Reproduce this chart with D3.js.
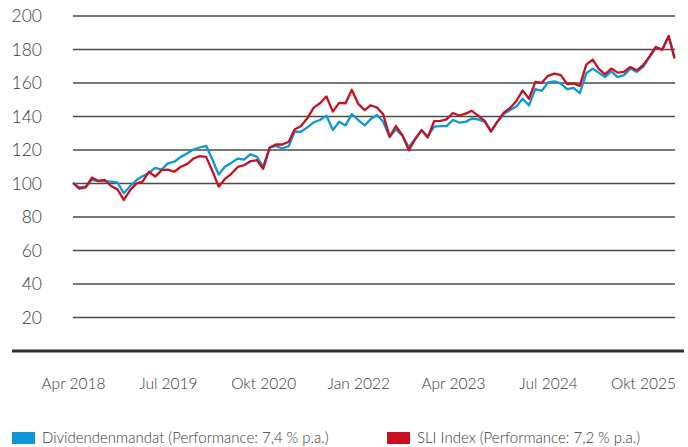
<!DOCTYPE html>
<html><head><meta charset="utf-8">
<script src="https://cdn.jsdelivr.net/npm/d3@7"></script>
<style>
html,body{margin:0;padding:0;background:#fff;}
svg text{font-family:Lato,"Open Sans","DejaVu Sans",sans-serif;font-weight:300;fill:#3a3a3a;}
</style></head>
<body><svg id="c" width="688" height="447"></svg>
<script>
const startMonth = new Date(2018, 3, 1);
const seriesNames = ["Dividendenmandat (Performance: 7,4\u202F% p.a.)", "SLI Index (Performance: 7,2\u202F% p.a.)"];
const seriesColors = ["#0d97d6", "#c8101e"];
const dividendenmandat = [100,97.4,97.8,101.8,101.2,101,100.8,100.2,93.9,98.2,101.8,104,106,109,108,111.7,112.7,115.6,117.6,120,121.2,122.2,113.7,105,109.8,112,114.6,114,117.2,115.6,109.6,121.2,122.2,120.6,122,130.6,130.6,133.2,136.2,137.6,140.2,131.6,136.6,134.4,141.1,137.6,134.4,138.1,140.6,136.6,127.4,132,128.3,121.4,126.3,131.4,127.8,133.6,134,134,137.6,136.1,136.5,138.5,138,136.5,130.7,136.6,141.1,143.6,145.8,150.3,146.3,156,155,160,160.7,159.3,156,156.8,153.7,165.5,168.3,165.9,163.2,166.6,163.2,164.4,168.3,166.3,169.3,175.2,180.7,179.8,187.8,175.3];
const sliIndex = [100,96.6,97.4,103.2,101.2,101.8,98.2,96.2,89.9,95.8,99.8,100.8,106.7,103.8,107.7,108,106.7,109.7,111.3,114.6,116,115.6,106.9,97.8,102.5,105.5,109.6,110.6,113,113.6,108.4,121,123,123,124.6,132,134,138.6,145,147.6,151.6,142.6,147.8,147.6,155.7,147.2,143.5,146.4,145,141,127.6,134,128.6,119.5,126,131.6,127.2,137,137.1,138,141.8,140.3,141.4,143.1,140.1,137.1,130.8,136.6,142,144.8,149.1,155.3,150.3,160.4,159.8,164,165.3,164.4,159,159.4,158,170.7,173.7,168.3,164.8,168.3,165.9,166.3,169.3,167.3,170.3,175.6,181.2,179.6,187.7,174.3];
const yTicks = [20,40,60,80,100,120,140,160,180,200];
const xTickDates = [new Date(2018,3,1), new Date(2019,6,1), new Date(2020,9,1), new Date(2022,0,1), new Date(2023,3,1), new Date(2024,6,1), new Date(2025,9,1)];
const xTickLabels = ["Apr 2018","Jul 2019","Okt 2020","Jan 2022","Apr 2023","Jul 2024","Okt 2025"];

(function(){
const months = dividendenmandat.map((_, i) => d3.timeMonth.offset(startMonth, i));
const svg = d3.select("#c");
const mLeft = 73, mRight = 674.5, mTop = 15.5, mBottom = 350.5;
const x = d3.scaleTime().domain([months[0], months[months.length-1]]).range([mLeft, mRight]);
const y = d3.scaleLinear().domain([0, 200]).range([mBottom, mTop]);

const yAxis = svg.append("g").attr("transform", `translate(${mLeft},0)`)
  .call(d3.axisLeft(y).tickValues(yTicks).tickSize(-(675 - mLeft)).tickPadding(31).tickFormat(d3.format("d")));
yAxis.select(".domain").remove();
yAxis.selectAll(".tick line").attr("stroke", "#4a4a4a").attr("stroke-width", 1.3);
yAxis.selectAll(".tick text").style("font-size", "17.5px").attr("dy", "0.36em");

svg.append("line").attr("x1", 12).attr("x2", 684).attr("y1", y(0) + 0.5).attr("y2", y(0) + 0.5)
  .attr("stroke", "#2e2e2e").attr("stroke-width", 3);

const xAxis = svg.append("g").attr("transform", `translate(0,${y(0)})`)
  .call(d3.axisBottom(x).tickValues(xTickDates).tickSize(0).tickPadding(27)
    .tickFormat((d, i) => xTickLabels[i]));
xAxis.select(".domain").remove();
xAxis.selectAll(".tick text").style("font-size", "15.5px");

const line = d3.line().x((d, i) => x(months[i])).y(d => y(d));
[dividendenmandat, sliIndex].forEach((s, k) => {
  svg.append("path").datum(s).attr("d", line).attr("fill", "none")
    .attr("stroke", seriesColors[k]).attr("stroke-width", 2.3).attr("stroke-linejoin", "round");
});

const legendX = [12, 387];
seriesNames.forEach((n, k) => {
  const g = svg.append("g").attr("transform", `translate(${legendX[k]},432)`);
  g.append("rect").attr("width", 23).attr("height", 12).attr("fill", seriesColors[k]);
  g.append("text").attr("x", 30).attr("y", 11).style("font-size", "15px").text(n);
});
})();
</script></body></html>
